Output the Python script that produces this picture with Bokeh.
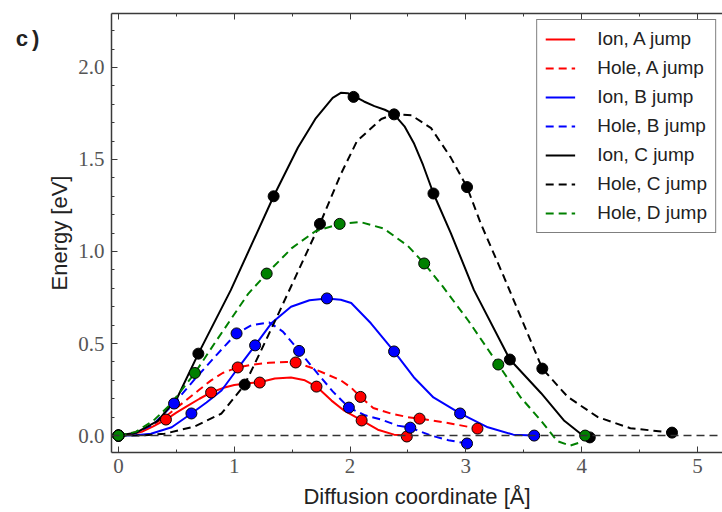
from bokeh.plotting import figure
from bokeh.layouts import row
from bokeh.models import (Range1d, LinearAxis, SingleIntervalTicker, Span, Legend,
                          LegendItem, NumeralTickFormatter)
from bokeh.core.properties import value
from bokeh.embed import file_html
from bokeh.resources import INLINE

# ---- data: markers (computed NEB images) ----
ion_a_x = [0, 0.41, 0.80, 1.22, 1.71, 2.10, 2.49]
ion_a_y = [0, 0.087, 0.234, 0.288, 0.266, 0.082, -0.005]
hole_a_x = [0, 1.03, 1.53, 2.09, 2.60, 3.10]
hole_a_y = [0, 0.37, 0.397, 0.21, 0.092, 0.038]
ion_b_x = [0, 0.63, 1.18, 1.80, 2.38, 2.95, 3.59]
ion_b_y = [0, 0.12, 0.49, 0.745, 0.457, 0.12, 0.0]
hole_b_x = [0, 0.48, 1.02, 1.56, 1.99, 2.52, 3.01]
hole_b_y = [0, 0.174, 0.555, 0.46, 0.152, 0.043, -0.043]
ion_c_x = [0, 0.69, 1.34, 2.03, 2.72, 3.38, 4.07]
ion_c_y = [0, 0.445, 1.30, 1.84, 1.315, 0.413, -0.01]
hole_c_x = [0, 1.09, 1.74, 2.38, 3.01, 3.66, 4.78]
hole_c_y = [0, 0.277, 1.15, 1.745, 1.35, 0.364, 0.016]
hole_d_x = [0, 0.66, 1.28, 1.91, 2.64, 3.28, 4.03]
hole_d_y = [0, 0.34, 0.88, 1.15, 0.935, 0.386, 0.0]

# ---- data: fitted curves ----
ion_a_cx = [0, 0.1, 0.2, 0.3, 0.41, 0.5, 0.6, 0.7, 0.8, 0.9, 1.0, 1.1, 1.22, 1.35, 1.49, 1.61, 1.71, 1.84, 1.95, 2.1, 2.24, 2.38, 2.49]
ion_a_cy = [0, 0.005, 0.02, 0.05, 0.087, 0.125, 0.163, 0.2, 0.234, 0.258, 0.275, 0.283, 0.29, 0.31, 0.315, 0.30, 0.266, 0.19, 0.135, 0.082, 0.032, 0.005, 0.0]
hole_a_cx = [0, 0.1, 0.2, 0.3, 0.4, 0.5, 0.6, 0.7, 0.8, 0.9, 1.03, 1.15, 1.3, 1.45, 1.53, 1.66, 1.81, 1.92, 2.01, 2.09, 2.2, 2.35, 2.5, 2.6, 2.75, 2.9, 3.1]
hole_a_cy = [0, 0.01, 0.03, 0.06, 0.1, 0.15, 0.2, 0.25, 0.3, 0.34, 0.37, 0.385, 0.395, 0.4, 0.397, 0.37, 0.33, 0.30, 0.26, 0.21, 0.15, 0.12, 0.10, 0.092, 0.078, 0.062, 0.038]
ion_b_cx = [0, 0.15, 0.28, 0.46, 0.63, 0.76, 0.89, 1.06, 1.18, 1.32, 1.49, 1.65, 1.80, 1.92, 2.01, 2.18, 2.38, 2.55, 2.72, 2.95, 3.19, 3.41, 3.59]
ion_b_cy = [0, 0.002, 0.01, 0.045, 0.12, 0.18, 0.245, 0.39, 0.49, 0.61, 0.70, 0.735, 0.745, 0.738, 0.72, 0.61, 0.457, 0.317, 0.207, 0.12, 0.045, 0.005, 0.0]
hole_b_cx = [0, 0.15, 0.3, 0.48, 0.65, 0.85, 1.02, 1.15, 1.3, 1.42, 1.56, 1.72, 1.85, 1.99, 2.13, 2.27, 2.41, 2.52, 2.7, 2.85, 3.01]
hole_b_cy = [0, 0.015, 0.06, 0.174, 0.3, 0.44, 0.555, 0.6, 0.615, 0.565, 0.46, 0.337, 0.24, 0.152, 0.11, 0.087, 0.054, 0.043, 0.0, -0.025, -0.043]
ion_c_cx = [0, 0.15, 0.34, 0.51, 0.69, 0.97, 1.34, 1.55, 1.70, 1.85, 1.92, 1.98, 2.03, 2.12, 2.21, 2.30, 2.38, 2.47, 2.55, 2.63, 2.72, 2.87, 3.07, 3.38, 3.65, 3.85, 4.01, 4.07]
ion_c_cy = [0, 0.015, 0.08, 0.208, 0.445, 0.79, 1.30, 1.565, 1.72, 1.835, 1.862, 1.86, 1.845, 1.815, 1.79, 1.77, 1.745, 1.68, 1.59, 1.47, 1.315, 1.10, 0.79, 0.413, 0.23, 0.08, 0.0, -0.01]
hole_c_cx = [0, 0.2, 0.4, 0.66, 0.89, 1.09, 1.23, 1.35, 1.52, 1.74, 1.92, 2.06, 2.27, 2.38, 2.53, 2.70, 2.87, 3.01, 3.13, 3.33, 3.66, 3.88, 4.14, 4.42, 4.78]
hole_c_cy = [0, 0.0, 0.01, 0.05, 0.12, 0.277, 0.46, 0.62, 0.85, 1.15, 1.42, 1.60, 1.72, 1.745, 1.74, 1.67, 1.51, 1.35, 1.15, 0.86, 0.364, 0.21, 0.10, 0.04, 0.016]
hole_d_cx = [0, 0.15, 0.3, 0.45, 0.66, 0.85, 1.12, 1.28, 1.5, 1.7, 1.91, 2.09, 2.29, 2.5, 2.64, 2.8, 3.02, 3.28, 3.47, 3.65, 3.79, 3.9, 3.97, 4.03]
hole_d_cy = [0, 0.02, 0.08, 0.17, 0.34, 0.52, 0.77, 0.88, 1.02, 1.11, 1.15, 1.16, 1.125, 1.03, 0.935, 0.81, 0.625, 0.386, 0.21, 0.08, -0.03, -0.055, -0.04, 0.0]

labels = ["Ion, A jump", "Hole, A jump", "Ion, B jump", "Hole, B jump",
          "Ion, C jump", "Hole, C jump", "Hole, D jump"]
panel_tag = "c)"

RED, BLUE, BLACK, GREEN = "#ff0000", "#0000ff", "#000000", "#008000"

series = [
    (ion_a_cx, ion_a_cy, ion_a_x, ion_a_y, RED, "solid"),
    (hole_a_cx, hole_a_cy, hole_a_x, hole_a_y, RED, "dashed"),
    (ion_b_cx, ion_b_cy, ion_b_x, ion_b_y, BLUE, "solid"),
    (hole_b_cx, hole_b_cy, hole_b_x, hole_b_y, BLUE, "dashed"),
    (ion_c_cx, ion_c_cy, ion_c_x, ion_c_y, BLACK, "solid"),
    (hole_c_cx, hole_c_cy, hole_c_x, hole_c_y, BLACK, "dashed"),
    (hole_d_cx, hole_d_cy, hole_d_x, hole_d_y, GREEN, "dashed"),
]

TAG_W = 44

# small panel holding the "c)" tag (pixel coordinates, y downwards)
tag = figure(width=TAG_W, height=512, output_backend="svg", toolbar_location=None,
             x_range=Range1d(0, TAG_W), y_range=Range1d(512, 0),
             x_axis_location=None, y_axis_location=None,
             min_border=0)
tag.outline_line_color = None
tag.grid.visible = False
tag.text(x=[15], y=[32], text=[panel_tag], text_font=value("Liberation Mono"),
         text_font_style="bold", text_font_size="22px", text_baseline="alphabetic",
         text_color="#222222")

p = figure(width=722 - TAG_W, height=512, output_backend="svg", toolbar_location=None,
           x_range=Range1d(-0.06, 5.216), y_range=Range1d(-0.092, 2.293),
           x_axis_location=None, y_axis_location=None,
           min_border_left=110 - TAG_W, min_border_right=0, min_border_top=13,
           min_border_bottom=60)
p.outline_line_color = None
p.grid.visible = False
p.background_fill_color = "white"
p.border_fill_color = "white"

AX = "#3a3a3a"
TICKFONT = "Liberation Serif"

def style_axis(ax):
    ax.axis_line_color = AX
    ax.axis_line_width = 1.5
    ax.major_tick_line_color = AX
    ax.minor_tick_line_color = AX
    ax.major_tick_in = 6
    ax.major_tick_out = 0
    ax.minor_tick_in = 3
    ax.minor_tick_out = 0
    ax.major_label_text_font = TICKFONT
    ax.major_label_text_font_size = "21px"
    ax.major_label_text_color = "#555555"
    ax.axis_label_text_font = "Liberation Sans"
    ax.axis_label_text_font_size = "22px"
    ax.axis_label_text_font_style = "normal"
    ax.axis_label_text_color = "#222222"

xaxis = LinearAxis(ticker=SingleIntervalTicker(interval=1, num_minor_ticks=2),
                   axis_label="Diffusion coordinate [Å]")
style_axis(xaxis)
xaxis.major_label_standoff = 6
xaxis.axis_label_standoff = 8
p.add_layout(xaxis, "below")

yaxis = LinearAxis(ticker=SingleIntervalTicker(interval=0.5, num_minor_ticks=5),
                   axis_label="Energy [eV]", formatter=NumeralTickFormatter(format="0.0"))
style_axis(yaxis)
yaxis.major_label_standoff = 7
yaxis.axis_label_standoff = 3
p.add_layout(yaxis, "left")

top = LinearAxis(ticker=SingleIntervalTicker(interval=1, num_minor_ticks=2))
style_axis(top)
top.major_label_text_color = None
top.major_label_text_font_size = "1px"
top.major_label_standoff = 0
p.add_layout(top, "above")

zero = Span(location=0, dimension="width", line_color="#333333", line_width=1.5,
            line_dash="8 5")
p.add_layout(zero)

items = []
for (cx, cy, mx, my, col, dash), lab in zip(series, labels):
    r = p.line(cx, cy, line_color=col, line_width=2,
               line_dash="solid" if dash == "solid" else "8 5")
    items.append(LegendItem(label=lab, renderers=[r]))

for (cx, cy, mx, my, col, dash) in series:
    p.scatter(mx, my, marker="circle", size=11, fill_color=col,
              line_color="black", line_width=1)

legend = Legend(items=items, location="top_right", margin=6,
                border_line_color="black", border_line_width=1,
                background_fill_color="white", background_fill_alpha=1,
                label_text_font="Liberation Sans", label_text_font_size="19px",
                label_text_color="#222222",
                glyph_width=30, glyph_height=22, label_height=22,
                spacing=7, padding=8, label_standoff=22)
p.add_layout(legend)

layout = row(tag, p, spacing=0)
open("out.html", "w").write(file_html(layout, INLINE))
